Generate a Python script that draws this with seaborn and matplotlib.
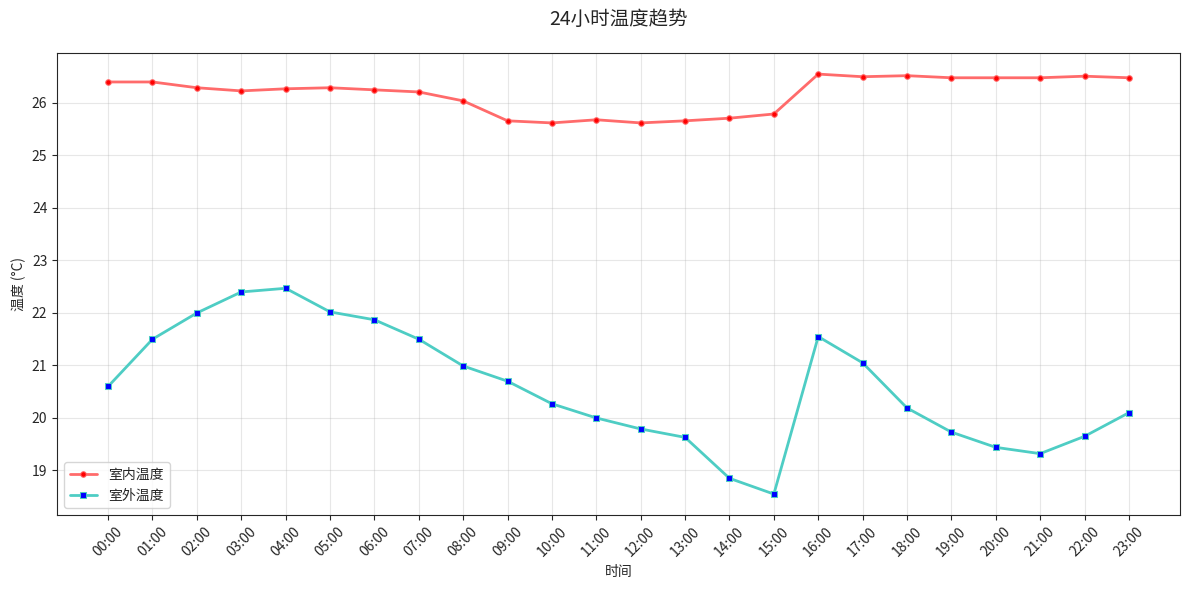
import matplotlib
matplotlib.use("Agg")
import matplotlib.pyplot as plt
import seaborn as sns
import pandas as pd

hours = [f"{h:02d}:00" for h in range(24)]
indoor = [26.40, 26.40, 26.29, 26.23, 26.27, 26.29, 26.25, 26.21, 26.04, 25.66, 25.62, 25.68,
          25.62, 25.66, 25.71, 25.79, 26.55, 26.50, 26.52, 26.48, 26.48, 26.48, 26.51, 26.48]
outdoor = [20.60, 21.50, 22.00, 22.40, 22.47, 22.02, 21.87, 21.50, 20.99, 20.70, 20.27, 20.00,
           19.79, 19.63, 18.85, 18.55, 21.55, 21.05, 20.19, 19.73, 19.44, 19.32, 19.65, 20.10]

sns.set_style("ticks")
plt.rcParams['font.family'] = ['Noto Sans CJK SC', 'DejaVu Sans']
plt.rcParams['axes.unicode_minus'] = False

df = pd.DataFrame({"时间": hours, "室内温度": indoor, "室外温度": outdoor})
df["x"] = range(len(hours))

fig, ax = plt.subplots(figsize=(11.89, 5.9), dpi=100)
sns.lineplot(data=df, x="x", y="室内温度", ax=ax, color="#FF6B6B", linewidth=2,
             marker="o", markersize=4, markerfacecolor="red", markeredgecolor="#FF6B6B",
             label="室内温度")
sns.lineplot(data=df, x="x", y="室外温度", ax=ax, color="#4ECDC4", linewidth=2,
             marker="s", markersize=4, markerfacecolor="blue", markeredgecolor="#4ECDC4",
             label="室外温度")

ax.set_xticks(df["x"])
ax.set_xticklabels(hours, rotation=45)
ax.set_xlabel("时间")
ax.set_ylabel("温度 (°C)")
ax.set_title("24小时温度趋势", fontsize=14, pad=20)
ax.grid(True, color="#b0b0b0", alpha=0.3)
ax.legend(loc="lower left")
for s in ax.spines.values():
    s.set_visible(True)
fig.subplots_adjust(left=0.048, right=0.9924, top=0.910, bottom=0.127)
fig.savefig("out.png", dpi=100)
